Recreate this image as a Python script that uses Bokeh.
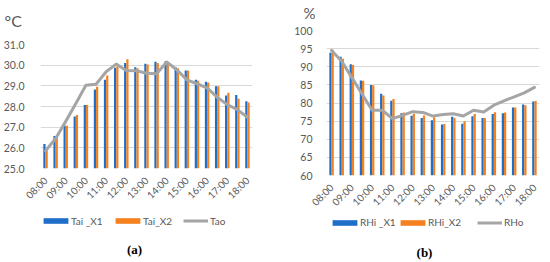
import math
from bokeh.plotting import figure
from bokeh.layouts import row, column
from bokeh.models import (ColumnDataSource, FixedTicker, Legend, LegendItem, Label,
                          Range1d, NumeralTickFormatter)
from bokeh.transform import dodge
from bokeh.embed import file_html
from bokeh.resources import INLINE

# ---------------- data ----------------
times = ["08:00", "08:30", "09:00", "09:30", "10:00", "10:30", "11:00", "11:30",
         "12:00", "12:30", "13:00", "13:30", "14:00", "14:30", "15:00", "15:30",
         "16:00", "16:30", "17:00", "17:30", "18:00"]

tai_x1 = [26.18, 26.57, 27.07, 27.52, 28.07, 28.82, 29.30, 29.87, 30.11, 29.90, 30.07,
          30.16, 30.19, 29.90, 29.74, 29.29, 29.20, 28.98, 28.53, 28.56, 28.25]
tai_x2 = [25.95, 26.50, 27.07, 27.59, 28.07, 28.95, 29.50, 29.94, 30.29, 29.85, 30.03,
          30.11, 30.11, 29.85, 29.74, 29.24, 29.16, 28.98, 28.66, 28.37, 28.19]
tao = [25.86, 26.45, 27.28, 28.15, 29.03, 29.08, 29.68, 30.05, 29.74, 29.73, 29.61,
       29.58, 30.15, 29.78, 29.29, 29.10, 28.90, 28.45, 28.09, 27.85, 27.48]

rhi_x1 = [93.85, 92.75, 90.70, 86.20, 84.95, 82.55, 80.60, 77.15, 76.50, 75.85, 75.25,
          74.10, 76.20, 74.30, 76.35, 75.85, 77.00, 77.15, 78.75, 79.60, 80.40]
rhi_x2 = [94.70, 92.20, 90.45, 86.15, 84.90, 82.10, 81.10, 77.40, 77.05, 76.55, 76.10,
          74.20, 75.95, 74.95, 77.00, 75.85, 77.45, 77.35, 78.75, 79.40, 80.55]
rho = [94.50, 91.50, 87.00, 82.50, 78.00, 78.00, 75.70, 76.60, 77.60, 77.40, 76.40,
       76.80, 77.05, 76.40, 78.00, 77.50, 79.40, 80.60, 81.70, 82.80, 84.30]

temp_ticks = [25, 26, 27, 28, 29, 30, 31]
rh_ticks = [60, 65, 70, 75, 80, 85, 90, 95, 100]
legend_a = ["Tai _X1", "Tai_X2", "Tao"]
legend_b = ["RHi _X1", "RHi_X2", "RHo"]
units = ["\u00b0C", "%"]
captions = ["(a)", "(b)"]

# ---------------- style ----------------
FONT = "Lato"
TXT = "#595959"
BLUE = "#1F6FC8"
ORANGE = "#F5801E"
LINEC = "#A5A5A5"
GRID = "#D9D9D9"


def blank(width, height):
    f = figure(width=width, height=height, output_backend="svg", toolbar_location=None,
               title=None, x_range=Range1d(0, width), y_range=Range1d(0, height),
               x_axis_location=None, y_axis_location=None, frame_align=False,
               min_border_left=0, min_border_right=0, min_border_top=0, min_border_bottom=0)
    f.outline_line_color = None
    f.xgrid.grid_line_color = None
    f.ygrid.grid_line_color = None
    f.background_fill_color = "white"
    f.border_fill_color = "white"
    return f


def one_legend(fig, label, rend, x, y, glyph_w, standoff):
    leg = Legend(items=[LegendItem(label=label, renderers=[rend])],
                 location=(x, y), orientation="horizontal",
                 padding=0, margin=0, spacing=0, label_standoff=standoff,
                 glyph_width=glyph_w, glyph_height=7, label_height=12,
                 label_text_font=FONT, label_text_font_size="10px",
                 label_text_color=TXT, border_line_color=None,
                 background_fill_alpha=0)
    fig.add_layout(leg, "center")


def panel(width, head_h, chart_h, foot_h, bl, br, ystand, ticks, fmt, s1, s2, s3, names,
          unit, caption, unit_xy, unit_size, leg_x, leg_y, cap_xy):
    idx = list(range(len(times)))
    src = ColumnDataSource(dict(x=idx, t=times, a=s1, b=s2, c=s3))

    # ---- header with the unit ----
    head = blank(width, head_h)
    head.add_layout(Label(x=unit_xy[0], y=unit_xy[1], text=unit, text_font=FONT,
                          text_font_size=unit_size, text_color=TXT,
                          text_align="left", text_baseline="middle"))

    # ---- chart ----
    p = figure(width=width, height=chart_h, output_backend="svg", toolbar_location=None,
               title=None, frame_align=False,
               x_range=Range1d(-0.5, len(times) - 0.5),
               y_range=Range1d(ticks[0], ticks[-1]),
               min_border_left=bl, min_border_right=br, min_border_top=6,
               min_border_bottom=41)
    p.outline_line_color = None
    p.background_fill_color = "white"
    p.border_fill_color = "white"
    p.xgrid.grid_line_color = None
    p.ygrid.grid_line_color = GRID
    p.ygrid.grid_line_width = 1

    bottom = ticks[0]
    p.vbar(x=dodge("x", -0.11, range=p.x_range), top="a", bottom=bottom, width=0.22,
           source=src, fill_color=BLUE, line_color=None)
    p.vbar(x=dodge("x", 0.11, range=p.x_range), top="b", bottom=bottom, width=0.22,
           source=src, fill_color=ORANGE, line_color=None)
    p.line(x="x", y="c", source=src, line_color=LINEC, line_width=3,
           line_join="round", line_cap="round")

    ya = p.yaxis[0]
    ya.ticker = FixedTicker(ticks=ticks)
    ya.formatter = NumeralTickFormatter(format=fmt)
    ya.axis_line_color = None
    ya.major_tick_line_color = None
    ya.minor_tick_line_color = None
    ya.major_label_standoff = ystand
    ya.major_label_text_font = FONT
    ya.major_label_text_font_size = "10.5px"
    ya.major_label_text_color = TXT

    xa = p.xaxis[0]
    xa.ticker = FixedTicker(ticks=idx[::2])
    xa.major_label_overrides = {i: times[i] for i in idx[::2]}
    xa.major_label_orientation = math.pi / 4
    xa.axis_line_color = None
    xa.major_tick_line_color = None
    xa.minor_tick_line_color = None
    xa.major_label_standoff = 4
    xa.major_label_text_font = FONT
    xa.major_label_text_font_size = "10px"
    xa.major_label_text_color = TXT

    # ---- footer with legend and caption ----
    foot = blank(width, foot_h)
    f1 = foot.vbar(x=[-100], top=[-100], bottom=-101, width=1, fill_color=BLUE, line_color=None)
    f2 = foot.vbar(x=[-100], top=[-100], bottom=-101, width=1, fill_color=ORANGE, line_color=None)
    f3 = foot.line(x=[-100, -99], y=[-100, -100], line_color=LINEC, line_width=3)
    one_legend(foot, names[0], f1, leg_x[0], leg_y, 31, 0)
    one_legend(foot, names[1], f2, leg_x[1], leg_y, 31, 0)
    one_legend(foot, names[2], f3, leg_x[2], leg_y, 25, 2)
    foot.add_layout(Label(x=cap_xy[0], y=cap_xy[1], text=caption,
                          text_font="Liberation Serif", text_font_size="13px",
                          text_font_style="bold", text_color="black",
                          text_align="center", text_baseline="middle"))
    return column(head, p, foot, spacing=0)


# panel (a): rows 0-38 header, 38-209 chart, 209-262 footer
pa = panel(290, 38, 171, 53, 37, 38, 10, temp_ticks, "0.0", tai_x1, tai_x2, tao,
           legend_a, units[0], captions[0],
           unit_xy=(4, 18), unit_size="16px", leg_x=(40, 112, 183), leg_y=35.5,
           cap_xy=(134, 13))
# panel (b): rows 0-24 header, 24-216 chart, 216-262 footer
pb = panel(260, 24, 192, 46, 36, 11, 8, rh_ticks, "0", rhi_x1, rhi_x2, rho,
           legend_b, units[1], captions[1],
           unit_xy=(13, 12), unit_size="15px", leg_x=(39, 107, 187), leg_y=34,
           cap_xy=(134, 10))

layout = row(pa, pb, spacing=0)
open("out.html", "w").write(file_html(layout, INLINE))
